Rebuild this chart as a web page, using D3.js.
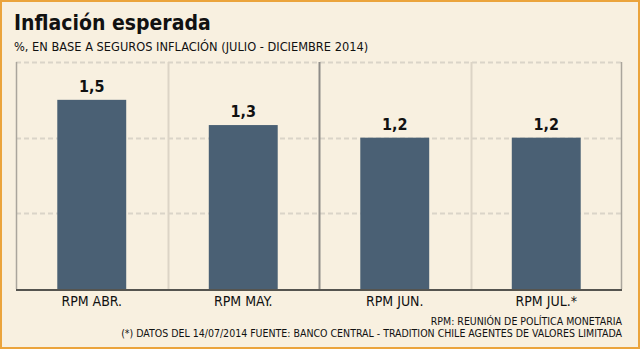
<!DOCTYPE html>
<html>
<head>
<meta charset="utf-8">
<script src="https://cdn.jsdelivr.net/npm/d3@7"></script>
<style>
  body { margin: 0; background: #fff; }
  svg text { font-family: "DejaVu Sans Condensed", "DejaVu Sans", sans-serif; }
</style>
</head>
<body>
<div id="chart-area"></div>
<script>
var categories = ["RPM ABR.", "RPM MAY.", "RPM JUN.", "RPM JUL.*"];
var values = [1.5, 1.3, 1.2, 1.2];
var gridTicks = [0.6, 1.2, 1.8];
var title = "Inflación esperada";
var subtitle = "%, EN BASE A SEGUROS INFLACIÓN (JULIO - DICIEMBRE 2014)";
var notes = ["RPM: REUNIÓN DE POLÍTICA MONETARIA",
             "(*) DATOS DEL 14/07/2014 FUENTE: BANCO CENTRAL - TRADITION CHILE AGENTES DE VALORES LIMITADA"];

var W = 640, H = 350;
var margin = { left: 16, right: 18, top: 62, bottom: 61 };
var width = W - margin.left - margin.right,
    height = H - margin.top - margin.bottom;

var svg = d3.select("#chart-area")
    .append("svg")
        .attr("width", W)
        .attr("height", H);

// background + orange frame
svg.append("rect")
    .attr("x", 1).attr("y", 1)
    .attr("width", W - 2).attr("height", H - 3)
    .attr("fill", "#f8f0e0")
    .attr("stroke", "#eba43c")
    .attr("stroke-width", 2);

svg.append("text")
    .attr("x", 14).attr("y", 30)
    .attr("font-size", "21px")
    .attr("font-weight", "bold")
    .attr("fill", "#111")
    .text(title);

svg.append("text")
    .attr("x", 14).attr("y", 51)
    .attr("font-size", "12.7px")
    .attr("fill", "#111")
    .text(subtitle);

var g = svg.append("g")
    .attr("transform", "translate(" + margin.left + "," + margin.top + ")");

var x = d3.scaleBand()
    .domain(categories)
    .range([0, width])
    .paddingInner(0)
    .paddingOuter(0);

var y = d3.scaleLinear()
    .domain([0, 1.8])
    .range([height, 0]);

var barW = x.bandwidth() * 0.455;

// dashed gridlines
g.selectAll(".grid")
    .data(gridTicks)
    .enter()
    .append("line")
        .attr("x1", 0).attr("x2", width)
        .attr("y1", d => Math.round(y(d)) + 0.5)
        .attr("y2", d => Math.round(y(d)) + 0.5)
        .attr("stroke", "#dad4c8")
        .attr("stroke-width", 2)
        .attr("stroke-dasharray", "5,3");

// band separators
g.selectAll(".sep")
    .data(categories.slice(1))
    .enter()
    .append("line")
        .attr("x1", d => Math.round(x(d)) + 0.5)
        .attr("x2", d => Math.round(x(d)) + 0.5)
        .attr("y1", 0).attr("y2", height)
        .attr("stroke", (d, i) => i == 1 ? "#8e8c88" : "#dcd4c6")
        .attr("stroke-width", 2);

// left and right frame
g.append("line")
    .attr("x1", 0.5).attr("x2", 0.5)
    .attr("y1", 0).attr("y2", height)
    .attr("stroke", "#aaa59c").attr("stroke-width", 1.5);
g.append("line")
    .attr("x1", width - 0.5).attr("x2", width - 0.5)
    .attr("y1", 0).attr("y2", height)
    .attr("stroke", "#aaa59c").attr("stroke-width", 1.5);

g.selectAll(".bar")
    .data(values)
    .enter()
    .append("rect")
        .attr("x", (d, i) => x(categories[i]) + (x.bandwidth() - barW) / 2)
        .attr("y", d => y(d))
        .attr("width", barW)
        .attr("height", d => height - y(d))
        .attr("fill", "#4a6074");

g.selectAll(".val")
    .data(values)
    .enter()
    .append("text")
        .attr("x", (d, i) => x(categories[i]) + x.bandwidth() / 2)
        .attr("y", d => y(d) - 8)
        .attr("text-anchor", "middle")
        .attr("font-size", "16px")
        .attr("font-weight", "bold")
        .attr("fill", "#111")
        .text(d => d3.format(".1f")(d).replace(".", ","));

// baseline
g.append("line")
    .attr("x1", 0).attr("x2", width)
    .attr("y1", height + 1).attr("y2", height + 1)
    .attr("stroke", "#55544f").attr("stroke-width", 2);

var xAxisCall = d3.axisBottom(x).tickSize(0).tickPadding(7);
var xa = g.append("g")
    .attr("transform", "translate(0," + height + ")")
    .call(xAxisCall);
xa.select(".domain").remove();
xa.selectAll("text")
    .attr("font-size", "14px")
    .attr("fill", "#111")
    .style("font-family", "'DejaVu Sans Condensed', 'DejaVu Sans', sans-serif");

svg.selectAll(".note")
    .data(notes)
    .enter()
    .append("text")
        .attr("x", 622)
        .attr("y", (d, i) => 325 + i * 12)
        .attr("text-anchor", "end")
        .attr("font-size", "10.5px")
        .attr("fill", "#111")
        .text(d => d);
</script>
</body>
</html>
